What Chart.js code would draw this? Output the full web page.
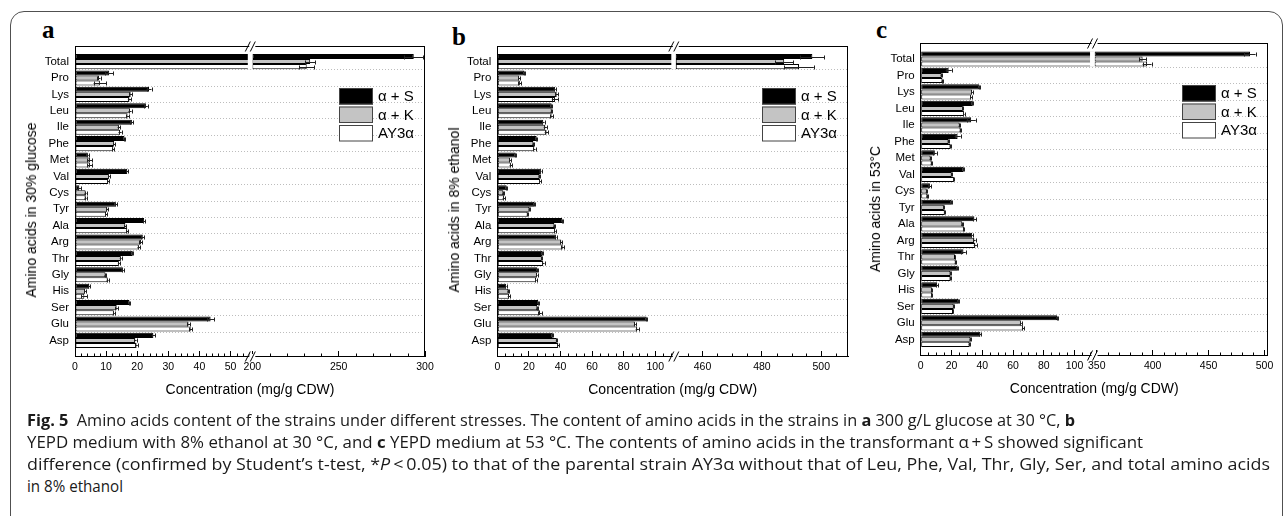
<!DOCTYPE html>
<html>
<head>
<meta charset="utf-8">
<script src="https://cdn.jsdelivr.net/npm/chart.js@4.4.1/dist/chart.umd.min.js"></script>
<style>
  html, body { margin:0; padding:0; background:#fff; }
  body { width:1285px; height:516px; position:relative; overflow:hidden; font-family:"Liberation Sans", Arial, sans-serif; color:#000; }
  #frame { position:absolute; left:10px; top:11px; width:1273px; height:530px; border:1.5px solid #505050; border-radius:14px; box-sizing:border-box; }
  canvas { position:absolute; top:0; }
  .ytitle { position:absolute; font-size:14px; white-space:nowrap; transform:translate(-50%,-50%) rotate(-90deg); color:#000; }
  .letter { position:absolute; font-family:"Liberation Serif","Times New Roman",serif; font-weight:bold; font-size:25px; line-height:25px; }
  .cap { position:absolute; left:27px; font-family:"Open Sans", sans-serif; font-size:16px; line-height:20px; white-space:nowrap; transform-origin:0 50%; color:#1a1a1a; }
</style>
</head>
<body>
<div id="frame"></div>
<div class="letter" style="left:42px;top:17px">a</div>
<div class="letter" style="left:452px;top:24px">b</div>
<div class="letter" style="left:876px;top:17px">c</div>
<canvas id="chartA" width="445" height="410" style="left:0px"></canvas>
<canvas id="chartB" width="428" height="410" style="left:440px"></canvas>
<canvas id="chartC" width="420" height="410" style="left:865px"></canvas>
<div class="ytitle" style="left:31px;top:210px">Amino acids in 30% glucose</div>
<div class="ytitle" style="left:454px;top:210px">Amino acids in 8% ethanol</div>
<div class="ytitle" style="left:875px;top:209px">Amino acids in 53°C</div>
<div class="cap" style="top:410px"><b>Fig. 5</b>&nbsp;&nbsp;Amino acids content of the strains under different stresses. The content of amino acids in the strains in <b>a</b> 300 g/L glucose at 30 °C, <b>b</b></div>
<div class="cap" style="top:432px">YEPD medium with 8% ethanol at 30 °C, and <b>c</b> YEPD medium at 53 °C. The contents of amino acids in the transformant α&#8201;+&#8201;S showed significant</div>
<div class="cap" style="top:454px">difference (confirmed by Student’s t-test, *<i>P</i>&#8201;&lt;&#8201;0.05) to that of the parental strain AY3α without that of Leu, Phe, Val, Thr, Gly, Ser, and total amino acids</div>
<div class="cap" style="top:476px">in 8% ethanol</div>

<script>
// ---------- data ----------
const CATEGORIES = ['Total','Pro','Lys','Leu','Ile','Phe','Met','Val','Cys','Tyr','Ala','Arg','Thr','Gly','His','Ser','Glu','Asp'];
const SERIES_NAMES = ['α + S', 'α + K', 'AY3α'];
const SERIES_COLORS = ['#000000', '#c4c4c4', '#ffffff'];

// (a) 30% glucose
const GLUCOSE_S = [293.5, 11.0, 23.8, 22.8, 18.3, 15.9, 4.1, 16.8, 1.4, 13.1, 22.2, 21.8, 18.5, 15.4, 4.6, 17.5, 43.6, 25.2];
const GLUCOSE_K = [233.5, 7.7, 17.9, 17.7, 14.1, 12.6, 4.8, 10.9, 3.4, 10.4, 16.2, 21.2, 14.7, 9.8, 3.2, 13.4, 36.5, 19.4];
const GLUCOSE_P = [231.5, 8.0, 17.5, 16.9, 14.5, 12.3, 4.8, 10.7, 3.4, 10.0, 16.8, 20.5, 14.1, 10.5, 3.0, 12.5, 37.2, 19.8];
const GLUCOSE_S_ERR = [5.4, 1.3, 0.8, 0.6, 0.5, 0.3, 0.3, 0.3, 0.5, 0.4, 0.4, 0.5, 0.3, 0.3, 0.3, 0.3, 1.2, 0.5];
const GLUCOSE_K_ERR = [3.0, 0.5, 0.5, 0.5, 0.4, 0.3, 0.8, 0.3, 0.3, 0.3, 0.3, 0.5, 0.3, 0.3, 0.3, 0.4, 0.5, 0.4];
const GLUCOSE_P_ERR = [4.4, 2.0, 0.5, 0.5, 0.5, 0.3, 0.8, 0.3, 0.3, 0.3, 0.3, 0.4, 0.3, 0.3, 1.0, 0.3, 0.5, 0.4];

// (b) 8% ethanol
const ETHANOL_S = [497, 17.1, 36.5, 34.4, 29.1, 24.9, 11.6, 27.6, 5.9, 23.4, 41.1, 37.1, 28.5, 25.3, 5.5, 25.9, 94.5, 35.0];
const ETHANOL_K = [487.5, 13.9, 37.6, 34.4, 30.4, 22.8, 8.0, 26.6, 3.8, 20.3, 36.1, 40.5, 28.1, 25.1, 7.0, 25.3, 87.1, 37.6];
const ETHANOL_P = [492.5, 14.3, 36.5, 34.4, 31.2, 23.4, 8.6, 27.0, 4.2, 19.2, 36.5, 41.4, 29.1, 24.5, 7.4, 27.0, 88.6, 38.6];
const ETHANOL_S_ERR = [4.0, 0.5, 0.5, 0.4, 0.8, 0.4, 0.4, 0.4, 0.3, 0.4, 0.4, 0.4, 0.4, 0.4, 0.4, 0.4, 0.5, 0.4];
const ETHANOL_K_ERR = [3.0, 0.5, 1.0, 0.5, 1.0, 0.5, 0.6, 0.4, 0.5, 0.4, 0.5, 0.6, 0.4, 0.4, 0.5, 0.4, 0.6, 0.5];
const ETHANOL_P_ERR = [5.0, 1.0, 2.0, 0.8, 1.2, 0.8, 0.8, 0.6, 0.8, 0.4, 0.5, 0.8, 0.8, 0.4, 0.8, 1.2, 1.0, 0.5];

// (c) 53 °C
const HEAT_S = [487, 18.2, 38.1, 33.8, 32.8, 24.0, 9.2, 27.8, 6.0, 19.9, 34.9, 33.4, 27.8, 23.8, 10.7, 24.4, 88.7, 38.8];
const HEAT_K = [391, 13.5, 33.4, 27.4, 25.3, 18.0, 6.4, 20.1, 3.9, 15.0, 27.0, 34.9, 22.3, 19.3, 7.3, 21.4, 65.1, 32.3];
const HEAT_P = [395, 14.1, 32.8, 28.1, 25.9, 19.3, 7.1, 21.6, 4.3, 15.6, 28.1, 35.5, 22.7, 19.3, 7.3, 21.0, 66.6, 31.7];
const HEAT_S_ERR = [5.0, 2.0, 0.5, 0.5, 3.0, 2.0, 1.2, 0.4, 1.0, 0.4, 1.2, 0.5, 1.5, 0.4, 0.8, 0.4, 0.4, 0.6];
const HEAT_K_ERR = [3.0, 0.5, 0.5, 0.4, 0.4, 0.3, 0.3, 0.3, 0.3, 0.3, 0.3, 0.8, 0.3, 0.3, 0.3, 0.4, 0.6, 0.5];
const HEAT_P_ERR = [4.0, 0.5, 0.5, 0.4, 0.4, 0.3, 0.3, 0.3, 0.5, 0.3, 0.3, 1.0, 0.3, 0.3, 0.3, 0.3, 0.8, 0.5];

// tick labels of the broken x axes
const A_LEFT_LABELS = [0, 10, 20, 30, 40, 50];
const A_RIGHT_LABELS = [200, 250, 300];
const B_LEFT_LABELS = [0, 20, 40, 60, 80, 100];
const B_RIGHT_LABELS = [460, 480, 500];
const C_LEFT_LABELS = [0, 20, 40, 60, 80, 100];
const C_RIGHT_LABELS = [350, 400, 450, 500];
const X_TITLE = 'Concentration (mg/g CDW)';

// caption line right ends (px)
const CAPTION_ENDS = [1075, 1143, 1270, 123];

// ---------- panel layout ----------
const PANELS = [
  { canvas: 'chartA', series: [GLUCOSE_S, GLUCOSE_K, GLUCOSE_P], errors: [GLUCOSE_S_ERR, GLUCOSE_K_ERR, GLUCOSE_P_ERR],
    left: { min: 0, max: 57, labels: A_LEFT_LABELS, minor: 2 }, right: { min: 200, max: 300, labels: A_RIGHT_LABELS, minor: 10 },
    weights: [177.3, 172.7], yWidth: 75, pad: { top: 46, right: 20, bottom: 11.6 } },
  { canvas: 'chartB', series: [ETHANOL_S, ETHANOL_K, ETHANOL_P], errors: [ETHANOL_S_ERR, ETHANOL_K_ERR, ETHANOL_P_ERR],
    left: { min: 0, max: 113, labels: B_LEFT_LABELS, minor: 5 }, right: { min: 451, max: 509, labels: B_RIGHT_LABELS, minor: 5 },
    weights: [178.5, 172.2], yWidth: 57.3, pad: { top: 46, right: 20, bottom: 11.6 } },
  { canvas: 'chartC', series: [HEAT_S, HEAT_K, HEAT_P], errors: [HEAT_S_ERR, HEAT_K_ERR, HEAT_P_ERR],
    left: { min: 0, max: 113, labels: C_LEFT_LABELS, minor: 5 }, right: { min: 348, max: 503, labels: C_RIGHT_LABELS, minor: 10 },
    weights: [175.9, 175.4], yWidth: 55.7, pad: { top: 43.3, right: 13, bottom: 12.6 } }
];

Chart.defaults.font.family = '"Liberation Sans", Arial, sans-serif';
Chart.defaults.color = '#000';

function buildDatasets(p) {
  const ds = [];
  p.series.forEach((vals, s) => {
    const common = {
      label: SERIES_NAMES[s], stack: 'g' + s, backgroundColor: SERIES_COLORS[s], borderColor: '#000',
      borderWidth: 1, borderSkipped: false, categoryPercentage: 0.92, barPercentage: 1.0,
      values: vals, errors: p.errors[s]
    };
    const idx = vals.map((_, i) => i);
    ds.push(Object.assign({}, common, { xAxisID: 'x1', catIndex: idx,
      data: vals.map((v, i) => ({ y: i, x: Math.min(v, p.left.max) })) }));
    const rIdx = idx.filter(i => vals[i] > p.right.min);
    ds.push(Object.assign({}, common, { xAxisID: 'x2', catIndex: rIdx,
      data: rIdx.map(i => ({ y: i, x: [p.right.min, vals[i]] })) }));
  });
  return ds;
}

function xAxis(spec, weight) {
  return {
    type: 'linear', position: 'bottom', stack: 'xs', stackWeight: weight,
    min: spec.min, max: spec.max, offset: false, stacked: false, beginAtZero: false,
    afterBuildTicks: s => { s.ticks = spec.labels.map(v => ({ value: v })); },
    afterFit: s => { s.height = 24; },
    ticks: { autoSkip: false, maxRotation: 0, padding: 10, color: '#000', font: { size: 10.5 }, callback: v => String(v) },
    grid: { display: true, drawOnChartArea: false, drawTicks: true, tickLength: -5, tickColor: '#000', tickWidth: 1 },
    border: { display: true, color: '#000', width: 1 }
  };
}

function decor(p) {
  return {
    id: 'decor',
    afterDatasetsDraw(chart) {
      const ctx = chart.ctx, yS = chart.scales.y;
      ctx.save();
      ctx.strokeStyle = '#222'; ctx.lineWidth = 1;
      chart.data.datasets.forEach((ds, di) => {
        const meta = chart.getDatasetMeta(di);
        const xs = chart.scales[ds.xAxisID];
        meta.data.forEach((el, j) => {
          const k = ds.catIndex[j];
          const v = ds.values[k], e = ds.errors[k];
          if (!e || v > xs.max || v < xs.min) return;
          const xa = xs.getPixelForValue(v - e), xb = xs.getPixelForValue(v + e);
          const y = Math.round(el.y) + 0.5, h = el.height * 0.4;
          ctx.beginPath();
          ctx.moveTo(xa, y); ctx.lineTo(xb, y);
          ctx.moveTo(Math.round(xa) + 0.5, y - h); ctx.lineTo(Math.round(xa) + 0.5, y + h);
          ctx.moveTo(Math.round(xb) + 0.5, y - h); ctx.lineTo(Math.round(xb) + 0.5, y + h);
          ctx.stroke();
        });
      });
      // gap where the axis is broken
      const bx = chart.scales.x1.right;
      const t = yS.getPixelForValue(-0.47), b = yS.getPixelForValue(0.47);
      ctx.fillStyle = '#fff';
      ctx.fillRect(bx - 4.5, t, 4.5, b - t);
      ctx.restore();
    },
    afterDraw(chart) {
      const ctx = chart.ctx;
      const { left, right, top, bottom } = chart.chartArea;
      const L = Math.round(left), R = Math.round(right), T = Math.round(top), B = Math.round(bottom);
      ctx.save();
      ctx.strokeStyle = '#000'; ctx.lineWidth = 1;
      ctx.beginPath();
      ctx.moveTo(L, T + 0.5); ctx.lineTo(R, T + 0.5);
      ctx.moveTo(R - 0.5, T); ctx.lineTo(R - 0.5, B + 1);
      // minor ticks
      [['x1', p.left], ['x2', p.right]].forEach(([id, spec]) => {
        const s = chart.scales[id];
        for (let v = Math.ceil(s.min / spec.minor) * spec.minor; v <= s.max + 1e-9; v += spec.minor) {
          if (spec.labels.includes(v)) continue;
          const x = Math.round(s.getPixelForValue(v)) + 0.5;
          ctx.moveTo(x, s.top + 0.5); ctx.lineTo(x, s.top - 2.5);
        }
      });
      ctx.stroke();
      // break marks
      const bx = chart.scales.x1.right;
      ctx.fillStyle = '#fff';
      ctx.fillRect(bx - 3, B - 2, 6, 5);
      ctx.fillRect(bx - 3, T - 1, 6, 3);
      ctx.beginPath();
      [T + 0.5, B + 0.5].forEach(yy => {
        ctx.moveTo(bx - 7, yy + 5); ctx.lineTo(bx - 2, yy - 5);
        ctx.moveTo(bx - 2, yy + 5); ctx.lineTo(bx + 3, yy - 5);
      });
      ctx.stroke();
      // legend
      ctx.font = '15px "Liberation Sans", Arial, sans-serif';
      ctx.textBaseline = 'middle'; ctx.textAlign = 'left';
      const lx = R - 86, ly = T + 42;
      SERIES_NAMES.forEach((name, i) => {
        const y = ly + i * 18.5;
        ctx.fillStyle = SERIES_COLORS[i];
        ctx.fillRect(lx, y, 34, 16.5);
        ctx.strokeStyle = '#444';
        ctx.strokeRect(lx + 0.5, y + 0.5, 33, 15.5);
        ctx.fillStyle = '#000';
        ctx.fillText(name, lx + 39, y + 9);
      });
      ctx.restore();
    }
  };
}

PANELS.forEach(p => {
  new Chart(document.getElementById(p.canvas), {
    type: 'bar',
    data: { datasets: buildDatasets(p) },
    options: {
      indexAxis: 'y',
      responsive: false,
      animation: false,
      events: [],
      layout: { padding: { top: p.pad.top, right: p.pad.right, left: 0, bottom: p.pad.bottom } },
      scales: {
        y: {
          type: 'linear', reverse: true, min: -0.95, max: 17.95, offset: false,
          afterBuildTicks: s => { s.ticks = CATEGORIES.map((_, i) => ({ value: i })); },
          afterFit: s => { s.width = p.yWidth; },
          ticks: { autoSkip: false, padding: 6, color: '#000', font: { size: 11.5 }, callback: v => CATEGORIES[v] },
          grid: { offset: true, drawTicks: false, lineWidth: 1,
                  color: c => (c.index === undefined || c.index === 0) ? 'rgba(0,0,0,0)' : '#bdbdbd' },
          border: { display: true, color: '#000', width: 1, dash: [1, 2] }
        },
        x1: xAxis(p.left, p.weights[0]),
        x2: xAxis(p.right, p.weights[1])
      },
      plugins: {
        legend: { display: false },
        tooltip: { enabled: false },
        title: { display: true, position: 'bottom', fullSize: false, text: X_TITLE,
                 font: { size: 14, weight: 'normal' }, color: '#000', padding: { top: 1.6, bottom: 0 } }
      }
    },
    plugins: [decor(p)]
  });
});

// caption: fit each line to the reference line length
(function () {
  document.querySelectorAll('.cap').forEach((el, i) => {
    const w = el.getBoundingClientRect().width;
    const f = (CAPTION_ENDS[i] - 27) / w;
    el.style.transform = 'scaleX(' + f + ')';
  });
})();
</script>
</body>
</html>
